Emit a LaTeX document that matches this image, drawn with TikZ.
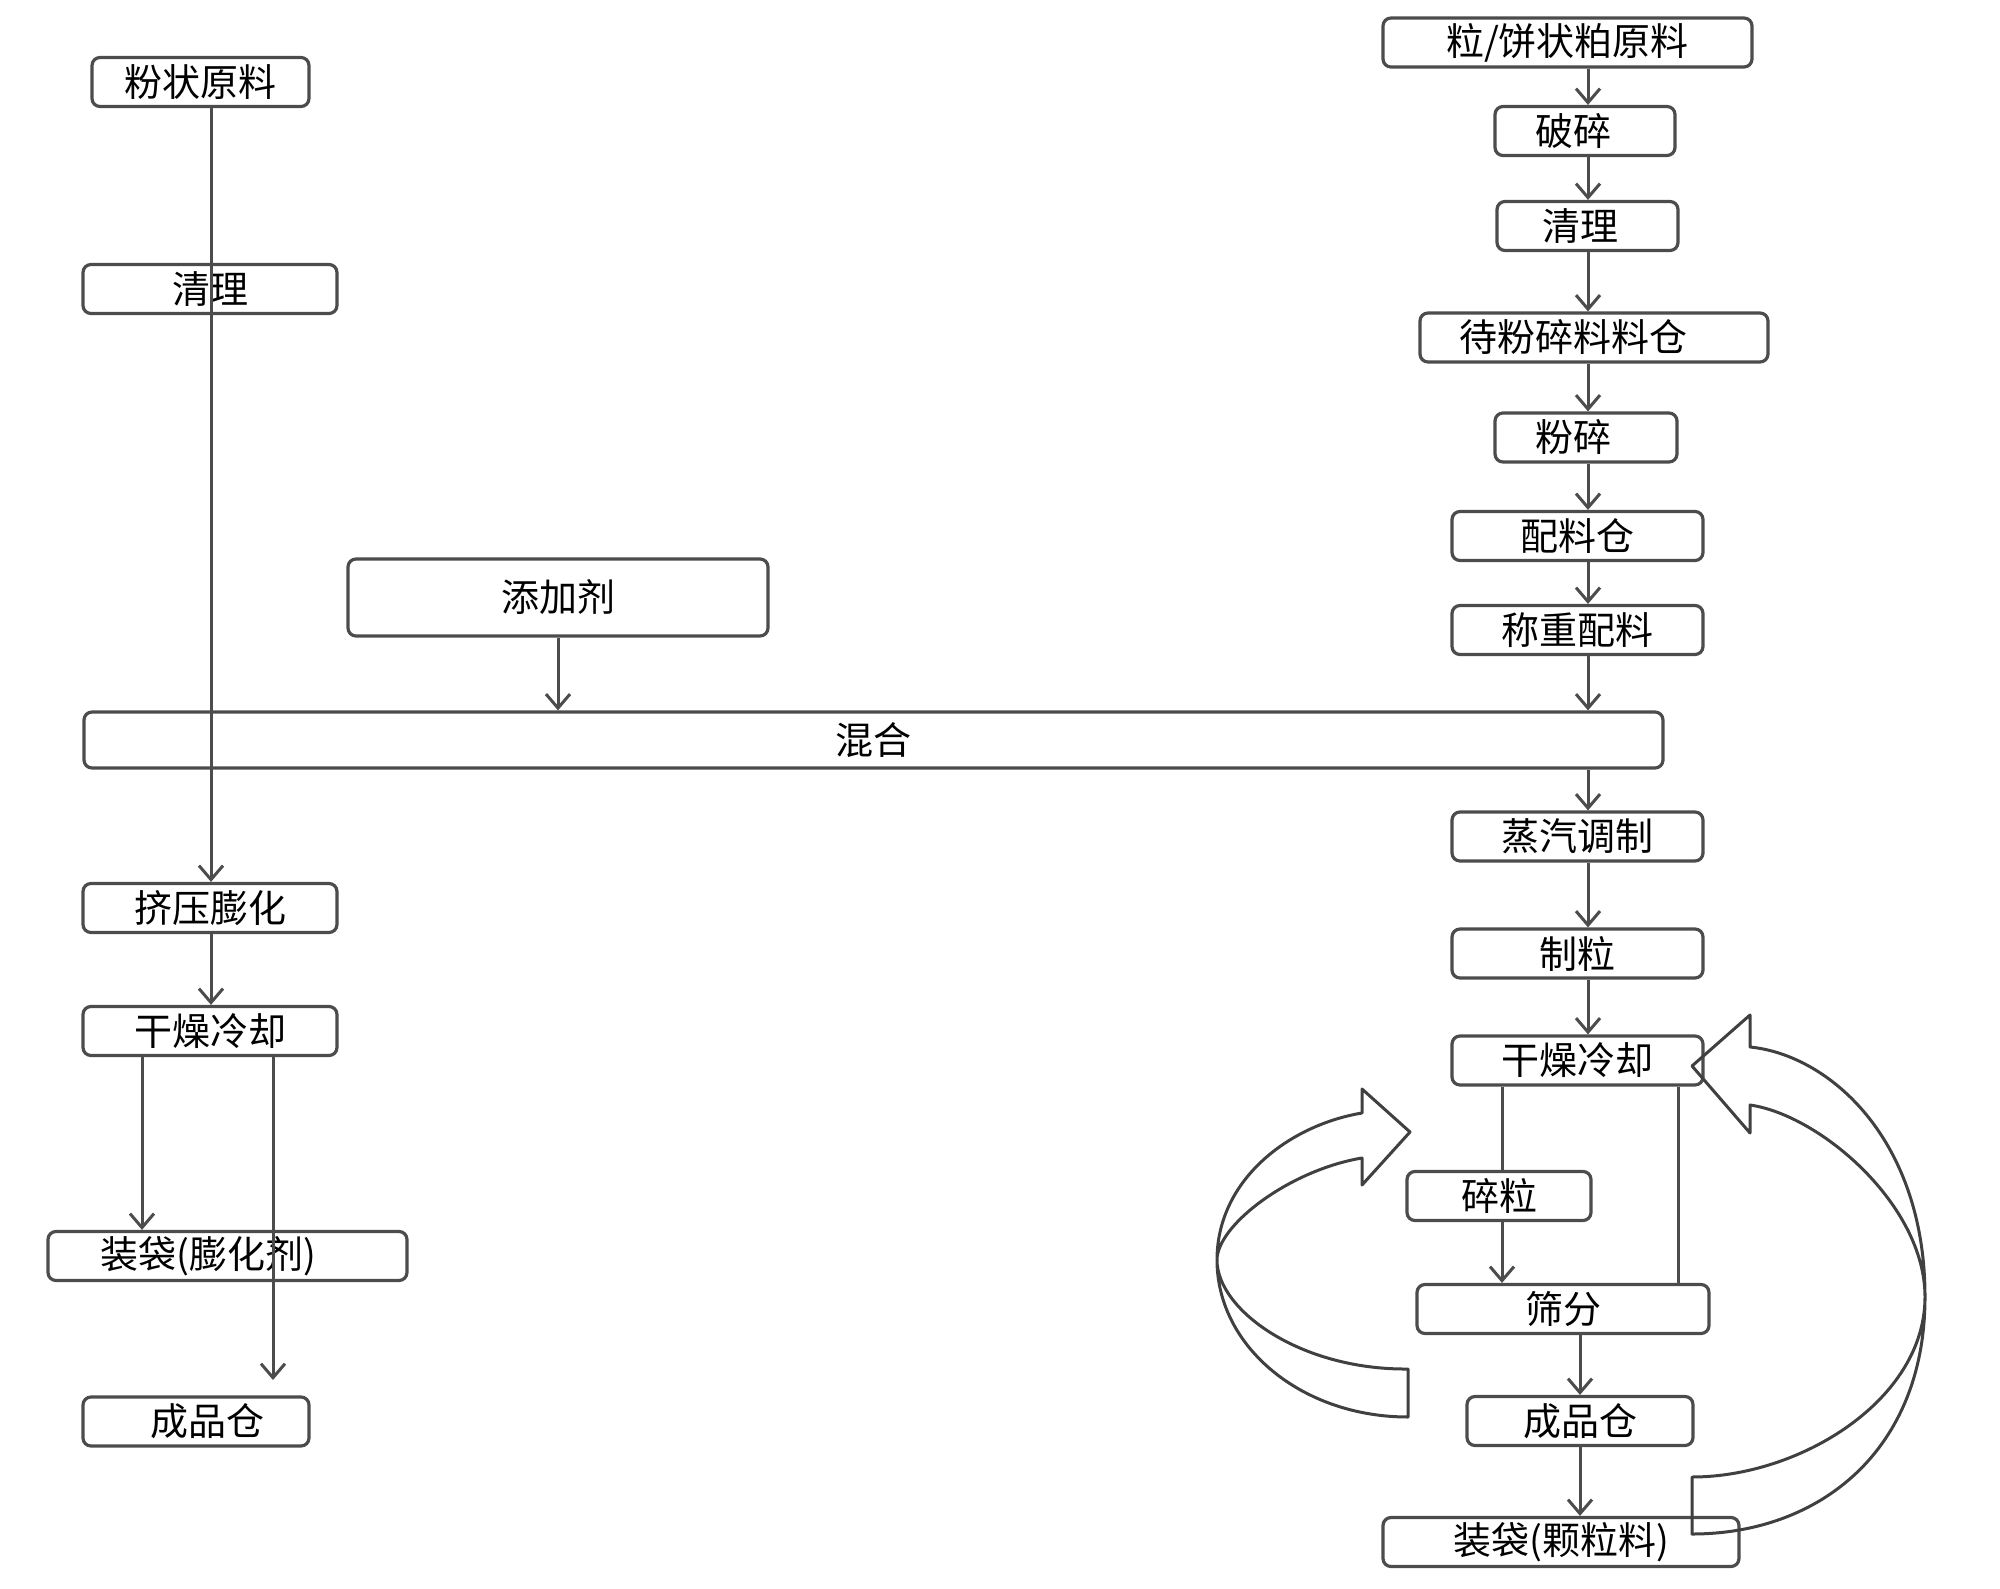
\documentclass[tikz,border=0pt]{standalone}
\usepackage{fontspec}
\setmainfont{Noto Sans CJK SC}
\usetikzlibrary{arrows.meta}

\begin{document}
\begin{tikzpicture}[x=1pt, y=-1pt,
  box/.style={draw=black!70, line width=3.2pt, rounded corners=8pt, inner sep=0pt,
    minimum height=49pt, font=\fontsize{38}{44}\selectfont},
  arr/.style={draw=black!70, line width=3pt, -{Straight Barb[length=14pt,width=24pt]}},
  ln/.style={draw=black!70, line width=3pt},
  backarrow/.style={draw=black!75, line width=3pt, line join=round}]
\useasboundingbox (0,0) rectangle (2000,1589);

% 左列 (膨化料)
\node[box, minimum width=217pt] (raw) at (200.5,82) {粉状原料};
\node[box, minimum width=254pt] (cleanL) at (210,289) {清理};
\node[box, minimum width=420pt, minimum height=77pt] (additive) at (558,597.5) {添加剂};
\node[box, minimum width=1579pt, minimum height=56pt] (mix) at (873.5,740) {混合};
\node[box, minimum width=254pt] (extrude) at (210,908) {挤压膨化};
\node[box, minimum width=254pt] (dryL) at (210,1031) {干燥冷却};
\node[box, minimum width=359pt] (bagL) at (227.5,1256) {\hspace*{-38pt}装袋(膨化剂)}; % 文字偏左
\node[box, minimum width=226pt] (storeL) at (196,1421.5) {\hspace*{22pt}成品仓};

% 右列 (颗粒料)
\node[box, minimum width=369pt] (pellet) at (1567.5,42.5) {粒/饼状粕原料};
\node[box, minimum width=180pt] (crush) at (1585,131) {\hspace*{-24pt}破碎};
\node[box, minimum width=181pt] (cleanR) at (1587.5,226) {\hspace*{-14pt}清理};
\node[box, minimum width=348pt] (bin) at (1594,337.5) {\hspace*{-42pt}待粉碎料料仓};
\node[box, minimum width=182pt] (grind) at (1586,437.5) {\hspace*{-26pt}粉碎};
\node[box, minimum width=251pt] (batch) at (1577.5,536) {配料仓};
\node[box, minimum width=251pt] (weigh) at (1577.5,630) {称重配料};
\node[box, minimum width=251pt] (steam) at (1577.5,836.5) {蒸汽调制};
\node[box, minimum width=251pt] (granul) at (1577.5,953.5) {制粒};
\node[box, minimum width=251pt] (dryR) at (1577.5,1060.5) {干燥冷却};
\node[box, minimum width=184pt] (fines) at (1499,1196) {碎粒};
\node[box, minimum width=292pt] (sieve) at (1563,1309) {筛分};
\node[box, minimum width=226pt] (storeR) at (1580,1421) {成品仓};
\node[box, minimum width=356pt] (bagR) at (1561,1542) {装袋(颗粒料)};

% 连线所在的竖直位置
\coordinate (lx) at (211,0);
\coordinate (lx2) at (142,0);
\coordinate (tipL) at (273,1380); % 箭头停在成品仓上方
\coordinate (rx) at (1588,0);
\coordinate (fx) at (1502,0);
\coordinate (sx) at (1678,0);
\coordinate (px) at (1580,0);

% 左列连线
\draw[arr] (raw.south -| lx) -- (extrude.north -| lx); % 穿过清理和混合
\draw[arr] (extrude.south -| lx) -- (dryL.north -| lx);
\draw[arr] (additive.south) -- (mix.north -| additive.south);
\draw[arr] (dryL.south -| lx2) -- (bagL.north -| lx2);
\draw[arr] (dryL.south -| tipL) -- (tipL);

% 右列连线
\foreach \a/\b in {pellet/crush, crush/cleanR, cleanR/bin, bin/grind, grind/batch,
    batch/weigh, weigh/mix, mix/steam, steam/granul, granul/dryR}
  \draw[arr] (\a.south -| rx) -- (\b.north -| rx);
\draw[ln] (dryR.south -| fx) -- (fines.north -| fx);
\draw[arr] (fines.south -| fx) -- (sieve.north -| fx);
\draw[ln] (dryR.south -| sx) -- (sieve.north -| sx);
\draw[arr] (sieve.south -| px) -- (storeR.north -| px);
\draw[arr] (storeR.south -| px) -- (bagR.north -| px);

% 左边的弯箭头
\draw[backarrow] (1408,1369) -- (1408,1417)
  .. controls (1302,1417) and (1217,1347) .. (1217,1260)
  .. controls (1217,1179) and (1290,1125) .. (1362,1113)
  -- (1362,1089) -- (1410,1132) -- (1362,1185) -- (1362,1158)
  .. controls (1290,1170) and (1217,1225) .. (1217,1260)
  .. controls (1217,1310) and (1300,1370) .. (1408,1369) -- cycle;

% 右边的弯箭头
\draw[backarrow] (1692,1477) -- (1692,1534)
  .. controls (1820,1534) and (1925,1450) .. (1925,1297)
  .. controls (1925,1140) and (1830,1055) .. (1750,1047)
  -- (1750,1015) -- (1692,1066) -- (1750,1133) -- (1750,1105)
  .. controls (1820,1115) and (1925,1205) .. (1925,1297)
  .. controls (1925,1400) and (1800,1477) .. (1692,1477) -- cycle;
\end{tikzpicture}
\end{document}
